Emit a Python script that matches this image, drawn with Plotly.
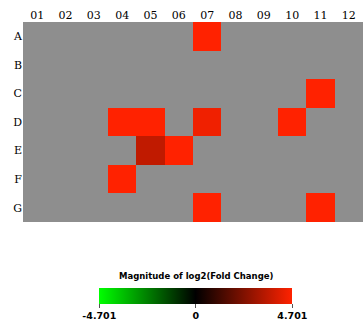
import numpy as np
import plotly.graph_objects as go

# Plate layout: 7 rows (A-G) x 12 columns (01-12)
rows = ["A", "B", "C", "D", "E", "F", "G"]
cols = ["01", "02", "03", "04", "05", "06", "07", "08", "09", "10", "11", "12"]

# log2 fold-change of the wells that changed; every other well is unchanged
changed_wells = ["A07", "C11", "D04", "D05", "D07", "D10", "E05", "E06", "F04", "G07", "G11"]
changed_values = [4.701, 4.701, 4.701, 4.701, 4.42, 4.701, 3.54, 4.701, 4.701, 4.701, 4.701]

zmax = 4.701
cbar_ticks = [-4.701, 0, 4.701]
cbar_labels = ["-4.701", "0", "4.701"]

z = np.full((len(rows), len(cols)), np.nan)
for well, val in zip(changed_wells, changed_values):
    z[rows.index(well[0]), cols.index(well[1:])] = val

colorscale = [[0.0, "rgb(0,255,0)"], [0.5, "rgb(0,0,0)"], [1.0, "rgb(255,34,0)"]]

bold_sans = dict(family="DejaVu Sans", color="black", weight="bold")

fig = go.Figure(
    go.Heatmap(
        z=z,
        x=cols,
        y=rows,
        zmin=-zmax,
        zmax=zmax,
        colorscale=colorscale,
        hoverongaps=False,
        colorbar=dict(
            orientation="h",
            lenmode="pixels",
            len=193,
            thickness=16,
            x=0.2245,
            xanchor="left",
            y=-0.33,
            yanchor="top",
            xpad=0,
            ypad=0,
            outlinewidth=0,
            ticks="outside",
            ticklen=4,
            tickwidth=1,
            tickcolor="#555555",
            tickvals=cbar_ticks,
            ticktext=cbar_labels,
            tickfont=dict(size=9.5, **bold_sans),
        ),
    )
)

# Colour bar caption
fig.add_annotation(
    text="Magnitude of log2(Fold Change)",
    xref="paper",
    yref="paper",
    x=(195.5 - 23) / 340,
    y=-(276 - 222) / 200,
    xanchor="center",
    yanchor="middle",
    showarrow=False,
    font=dict(size=8.5, **bold_sans),
)

fig.update_layout(
    width=363,
    height=322,
    margin=dict(l=23, r=0, t=22, b=100),
    paper_bgcolor="white",
    plot_bgcolor="rgb(142,142,142)",
    xaxis=dict(
        side="top",
        showgrid=False,
        zeroline=False,
        ticks="",
        tickfont=dict(family="DejaVu Serif", size=11, color="black"),
    ),
    yaxis=dict(
        autorange="reversed",
        showgrid=False,
        zeroline=False,
        ticks="",
        tickfont=dict(family="DejaVu Serif", size=11, color="black"),
    ),
)

fig.write_html("out.html")
